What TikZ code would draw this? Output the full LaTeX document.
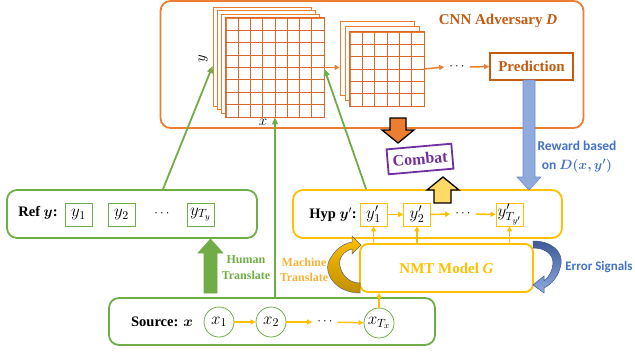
\RequirePackage{fix-cm}
\documentclass[tikz,border=0pt]{standalone}
\usepackage{bm}
\usepackage{fontspec}
\setmainfont{Liberation Serif}
\newfontfamily\calibri{Carlito}
\usetikzlibrary{arrows.meta,calc}
\definecolor{advorange}{HTML}{ED7D31}
\definecolor{advbrown}{HTML}{C55A11}
\definecolor{gridline}{HTML}{D8682A}
\definecolor{refgreen}{HTML}{70AD47}
\definecolor{hypgold}{HTML}{FFC000}
\definecolor{mtgold}{HTML}{F4B13C}
\definecolor{mtdark}{HTML}{BF9000}
\definecolor{rewblue}{HTML}{8FAADC}
\definecolor{rewedge}{HTML}{6E8CC8}
\definecolor{errdark}{HTML}{3C5A96}
\definecolor{curveedge}{HTML}{5A6482}
\definecolor{txtblue}{HTML}{4472C4}
\definecolor{cbpurple}{HTML}{7030A0}
\definecolor{upyellow}{HTML}{FFD966}

\begin{document}
\begin{tikzpicture}[x=1pt,y=-1pt,
  outer/.style={draw,rounded corners=10pt,line width=1.8pt,inner sep=0pt},
  tok/.style={draw,line width=0.8pt,minimum width=27pt,minimum height=23pt,inner sep=0pt,font=\fontsize{17}{19}\selectfont},
  srctok/.style={draw=refgreen,circle,line width=0.8pt,minimum size=30pt,inner sep=0pt,font=\fontsize{17}{19}\selectfont},
  seq/.style={-{Triangle[length=5pt,width=5pt]},line width=1.5pt,hypgold},
  feed/.style={-{Triangle[length=7pt,width=6pt]},line width=1.8pt,refgreen},
  layer/.style={draw=advorange,fill=white,line width=0.8pt,inner sep=0pt},
  lbl/.style={font=\fontsize{14.5}{16}\selectfont\bfseries},
  dots/.style={inner sep=5pt,font=\fontsize{13}{15}\selectfont}]
\useasboundingbox (0,0) rectangle (635,351);

% CNN adversary
\node[outer,draw=advorange,minimum width=423pt,minimum height=127pt] (adv) at (372,64.5) {};
\node[text=advbrown,font=\fontsize{15}{17}\selectfont\bfseries] at (498,21) {CNN Adversary \textit{D}};
\foreach \o [count=\k] in {0,1,2}
  \node[layer,minimum width=98pt,minimum height=99pt] (a\k) at (262+4.3*\o,56.5+3.7*\o) {};
\node[layer,minimum width=98pt,minimum height=99pt] (g1) at (275,67.5) {};
\foreach \i in {1,...,7} {
  \draw[gridline,line width=0.8pt] (226+\i*12.25,18) -- (226+\i*12.25,117);
  \draw[gridline,line width=0.8pt] (226,18+\i*12.375) -- (324,18+\i*12.375);
}
\draw[gridline,line width=1pt] (g1.north west) rectangle (g1.south east);
\foreach \o [count=\k] in {0,1}
  \node[layer,minimum width=74pt,minimum height=74pt] (b\k) at (377+5*\o,58+5.5*\o) {};
\node[layer,minimum width=74pt,minimum height=74pt] (g2) at (387,69) {};
\foreach \i in {1,...,5} {
  \draw[gridline,line width=0.8pt] (350+\i*12.33,32) -- (350+\i*12.33,106);
  \draw[gridline,line width=0.8pt] (350,32+\i*12.33) -- (424,32+\i*12.33);
}
\draw[gridline,line width=1pt] (g2.north west) rectangle (g2.south east);
\node[font=\fontsize{15}{17}\selectfont,rotate=90] (ylab) at (203,59) {$y$};
\node[font=\fontsize{15}{17}\selectfont] (xlab) at (263,122) {$x$};
\node[dots] (cdots) at (457,67) {$\cdots$};
\node[draw=advbrown,line width=2pt,minimum width=83pt,minimum height=27pt,inner sep=0pt,text=advbrown,font=\fontsize{15}{17}\selectfont\bfseries] (pred) at (531.5,66.5) {Prediction};
\draw[seq,advorange] (g1.east) -- (g1.east -| b1.west);
\draw[seq,advorange] (g2.east) -- (cdots.west);
\draw[seq,advorange] (cdots.east) -- (pred.west);

% reference
\node[outer,draw=refgreen,minimum width=250pt,minimum height=48pt] (ref) at (132,214) {};
\node[lbl] at (38,213) {Ref $\bm{y}$:};
\node[tok,draw=refgreen] (r1) at (78.5,214.5) {$y_1$};
\node[tok,draw=refgreen] (r2) at (121.5,214.5) {$y_2$};
\node[dots] (rdots) at (162,214) {$\cdots$};
\node[tok,draw=refgreen] (r3) at (200.5,214.5) {$y_{T_y}$};

% hypothesis
\node[outer,draw=hypgold,minimum width=269pt,minimum height=48pt] (hyp) at (427.5,214) {};
\node[lbl] at (333,215) {Hyp $\bm{y}'$:};
\node[tok,draw=hypgold] (h1) at (373.5,214.5) {$y'_1$};
\node[tok,draw=hypgold] (h2) at (417,214.5) {$y'_2$};
\node[dots] (hdots) at (463,214) {$\cdots$};
\node[tok,draw=hypgold] (h3) at (509.5,214.5) {$y'_{T_{y'}}$};
\draw[seq] (h1) -- (h2);
\draw[seq] (h2) -- (hdots);
\draw[seq] (hdots) -- (h3);

% generator
\node[outer,draw=hypgold,rounded corners=8pt,minimum width=173pt,minimum height=48pt,text=hypgold,font=\fontsize{15}{17}\selectfont\bfseries] (nmt) at (446.5,268) {NMT Model \textit{G}};
\foreach \h in {h1,h2,h3}
  \draw[seq] (\h.south |- nmt.north) -- (\h.south);

% source
\node[outer,draw=refgreen,minimum width=326pt,minimum height=47pt] (src) at (272,321.5) {};
\node[lbl] at (162,322) {Source: $\bm{x}$};
\node[srctok] (x1) at (219,322) {$x_1$};
\node[srctok] (x2) at (271,322) {$x_2$};
\node[dots] (sdots) at (325,322) {$\cdots$};
\node[srctok] (x3) at (379,323) {$x_{T_x}$};
\draw[seq] (x1) -- (x2);
\draw[seq] (x2) -- (sdots);
\draw[seq] (sdots) -- (x3);
\draw[seq] (x3.north) -- (x3.north |- nmt.south);

% inputs of the adversary
\draw[feed] ([xshift=31pt]ref.north) -- ([yshift=-9.5pt]a1.west);
\draw[feed] (g1.south |- src.north) -- (g1.south);
\draw[feed] ([xshift=74pt]hyp.north west) -- ([yshift=-1.5pt]g1.east);

% block arrows
\draw[refgreen,fill=refgreen,line width=0.6pt] (204,293) -- (204,253) -- (198,253) -- (210.5,239) -- (223,253) -- (217,253) -- (217,293) -- cycle;
\draw[rewedge,fill=rewblue,line width=0.6pt] (523,80) -- (523,177) -- (517,177) -- (529,190) -- (541,177) -- (535,177) -- (535,80) -- cycle;
\draw[black,fill=advorange,line width=1.3pt,line join=miter] (390,118) -- (390,130) -- (382,130) -- (398,143) -- (414,130) -- (406,130) -- (406,118) -- cycle;
\draw[black,fill=upyellow,line width=1.3pt,line join=miter] (434,203) -- (434,190) -- (427,190) -- (443,177) -- (459,190) -- (451,190) -- (451,203) -- cycle;
\node[draw=cbpurple,line width=1.8pt,rotate=5,minimum width=65pt,minimum height=25pt,inner sep=0pt,text=cbpurple,font=\fontsize{16}{18}\selectfont\bfseries] (combat) at (420,159) {Combat};

% curved arrows
\shade[top color=hypgold,bottom color=mtdark,draw=curveedge,line width=0.5pt]
  (360,293) .. controls (335,293) and (322,272) .. (330,259) .. controls (335,250) and (342,244) .. (352,242)
  -- (352,236) -- (361,245) -- (352,254) -- (352,249) .. controls (344,251) and (338,258) .. (340,266)
  .. controls (342,276) and (350,283) .. (360,283) -- cycle;
\shade[top color=errdark,bottom color=rewblue,draw=errdark,line width=0.5pt]
  (533,241) .. controls (552,241) and (563,252) .. (561,264) .. controls (559,276) and (552,284) .. (544,288)
  -- (544,293) -- (533,285) -- (544,276) -- (544,281) .. controls (549,277) and (553,270) .. (553,263)
  .. controls (553,254) and (545,248) .. (533,248) -- cycle;

% side labels
\node[font=\fontsize{13.5}{19}\selectfont\calibri\bfseries,text=txtblue,align=center] (rew) at (577,157) {Reward based\\on $\bm{D(x,y')}$};
\node[font=\fontsize{13}{15}\selectfont\calibri\bfseries,text=txtblue] (err) at (599,267) {Error Signals};
\node[font=\fontsize{12}{16}\selectfont\bfseries,text=refgreen,align=center] (hum) at (246,268) {Human\\Translate};
\node[font=\fontsize{12}{15}\selectfont\bfseries,text=mtgold,align=center] (mach) at (304,269.5) {Machine\\Translate};
\end{tikzpicture}
\end{document}
